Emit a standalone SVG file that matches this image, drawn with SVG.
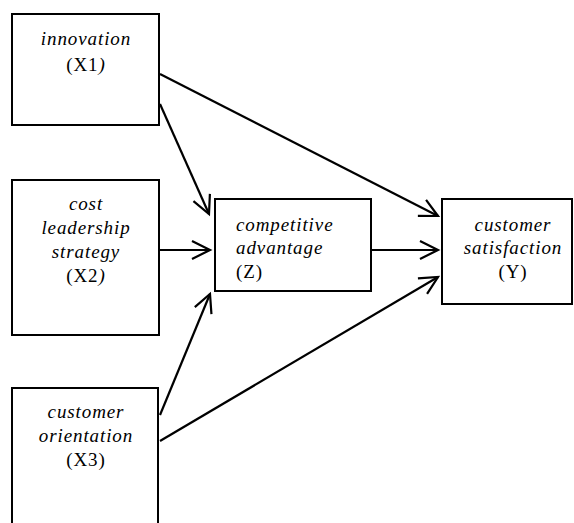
<svg xmlns="http://www.w3.org/2000/svg" width="574" height="523" viewBox="0 0 574 523">
<style>
.box{fill:#fff;stroke:#000;stroke-width:2}
.t{font-family:"Liberation Serif","Times New Roman",serif;font-size:19px;fill:#000;letter-spacing:0.9px}
.i{font-style:italic}
.c{text-anchor:middle}
.conn line{stroke:#000;stroke-width:2.2;marker-end:url(#ah)}
</style>
<defs>
<marker id="ah" markerUnits="userSpaceOnUse" markerWidth="24" markerHeight="24" refX="20" refY="12" orient="auto" overflow="visible">
<path d="M2,3 L20,12 L2,21" fill="none" stroke="#000" stroke-width="2.2"/>
</marker>
</defs>
<rect width="574" height="523" fill="#fff"/>
<g id="X1">
<rect class="box" x="12" y="14" width="147" height="111"/>
<text class="t i c" x="86" y="45">innovation</text>
<text class="t c" x="86" y="71">(X1<tspan class="i">)</tspan></text>
</g>
<g id="X2">
<rect class="box" x="12" y="180" width="147" height="155"/>
<text class="t i c" x="86" y="210">cost</text>
<text class="t i c" x="86" y="234">leadership</text>
<text class="t i c" x="86" y="258">strategy</text>
<text class="t c" x="86" y="282">(X2<tspan class="i">)</tspan></text>
</g>
<g id="X3">
<rect class="box" x="12" y="388" width="146" height="150"/>
<text class="t i c" x="86" y="418">customer</text>
<text class="t i c" x="86" y="442">orientation</text>
<text class="t c" x="86" y="466">(X3)</text>
</g>
<g id="Z">
<rect class="box" x="215" y="199" width="156" height="92"/>
<text class="t i" x="236" y="231">competitive</text>
<text class="t i" x="236" y="254">advantage</text>
<text class="t" x="236" y="278">(Z)</text>
</g>
<g id="Y">
<rect class="box" x="442" y="199" width="130" height="105"/>
<text class="t i c" x="513" y="231">customer</text>
<text class="t i c" x="513" y="254">satisfaction</text>
<text class="t c" x="513" y="278">(Y)</text>
</g>
<g id="connectors" class="conn">
<line x1="160" y1="74" x2="438" y2="216"/>
<line x1="160" y1="104" x2="209" y2="214"/>
<line x1="160" y1="250" x2="210" y2="250"/>
<line x1="372" y1="250" x2="438" y2="250"/>
<line x1="160" y1="415" x2="210" y2="294"/>
<line x1="160" y1="441" x2="438" y2="277"/>
</g>
</svg>
